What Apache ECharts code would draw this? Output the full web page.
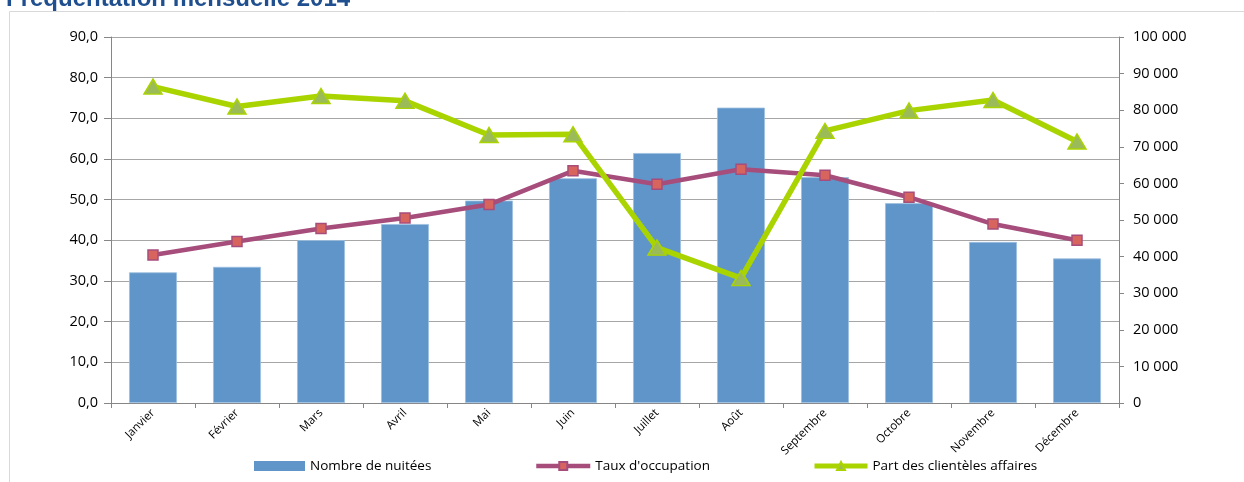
<!DOCTYPE html>
<html>
<head>
<meta charset="utf-8">
<script src="https://cdn.jsdelivr.net/npm/echarts@6/dist/echarts.min.js"></script>
<style>html,body{margin:0;padding:0;background:#fff}#c{width:1244px;height:482px}</style>
</head>
<body>
<div id="c"></div>
<script>
const months = ['Janvier','Février','Mars','Avril','Mai','Juin','Juillet','Août','Septembre','Octobre','Novembre','Décembre'];
const nuitees = [35700, 37200, 44500, 48900, 55300, 61400, 68300, 80700, 61700, 54600, 44000, 39500];
const tauxOccupation = [36.4, 39.7, 42.9, 45.5, 48.8, 57.1, 53.8, 57.5, 56.0, 50.6, 44.0, 40.0];
const partAffaires = [77.8, 72.9, 75.5, 74.3, 65.9, 66.1, 38.2, 30.7, 66.9, 71.9, 74.5, 64.3];
const titleText = 'Fréquentation mensuelle 2014';

const FONT = '"Open Sans", sans-serif';
const chart = echarts.init(document.getElementById('c'), null, {renderer: 'canvas'});
const fmtLeft = v => v.toFixed(1).replace('.', ',');
const fmtRight = v => String(v).replace(/\B(?=(\d{3})+(?!\d))/g, ' ');
const legendText = {fontFamily: FONT, fontSize: 13.5, color: '#000'};
const PURPLE = '#A64D7C', GREEN = '#AAD400', BLUE = '#6095C9';

chart.setOption({
  animation: false,
  backgroundColor: '#fff',
  graphic: [
    {type: 'line', shape: {x1: 9.5, y1: 11.5, x2: 1244, y2: 11.5}, style: {stroke: '#d9d9d9', lineWidth: 1}},
    {type: 'line', shape: {x1: 9.5, y1: 11.5, x2: 9.5, y2: 482}, style: {stroke: '#d9d9d9', lineWidth: 1}},
    {type: 'text', left: 6, top: -13, style: {text: titleText, font: 'bold 24px "Liberation Sans", Arial, sans-serif', fill: '#1F4F8F'}}
  ],
  grid: {left: 111, right: 125, top: 37, bottom: 79, containLabel: false},
  legend: [
    {data: [{name: 'Nombre de nuitées', icon: 'rect', itemStyle: {color: BLUE, borderWidth: 0}}], left: 249, top: 454, itemWidth: 51, itemHeight: 10, textStyle: legendText},
    {data: [{name: 'Taux d\'occupation', lineStyle: {width: 4.5, color: PURPLE}}], left: 529, top: 454, itemWidth: 54, itemHeight: 10, textStyle: legendText},
    {data: [{name: 'Part des clientèles affaires', lineStyle: {width: 5, color: GREEN}}], left: 807, top: 454, itemWidth: 53, itemHeight: 10, textStyle: legendText}
  ],
  xAxis: {
    type: 'category', data: months,
    axisLine: {lineStyle: {color: '#868686', width: 1}},
    axisTick: {show: true, length: 5, lineStyle: {color: '#868686'}},
    axisLabel: {rotate: 45, margin: 8, fontFamily: FONT, fontSize: 11.5, color: '#000', interval: 0},
    splitLine: {show: false}
  },
  yAxis: [
    {
      type: 'value', min: 0, max: 90, interval: 10, position: 'left',
      axisLine: {show: true, lineStyle: {color: '#868686'}},
      axisTick: {show: true, length: 7, lineStyle: {color: '#868686'}},
      axisLabel: {formatter: fmtLeft, fontFamily: FONT, fontSize: 14.5, color: '#000', margin: 13},
      splitLine: {show: true, lineStyle: {color: '#a6a6a6', width: 1}}
    },
    {
      type: 'value', min: 0, max: 100000, interval: 10000, position: 'right',
      axisLine: {show: true, lineStyle: {color: '#868686'}},
      axisTick: {show: true, length: 5, lineStyle: {color: '#868686'}},
      axisLabel: {formatter: fmtRight, fontFamily: FONT, fontSize: 14.5, color: '#000', margin: 14},
      splitLine: {show: false}
    }
  ],
  series: [
    {
      name: 'Nombre de nuitées', type: 'bar', yAxisIndex: 1, data: nuitees,
      barCategoryGap: '43%',
      itemStyle: {color: BLUE, borderColor: '#9dbfe0', borderWidth: 0.8},
      z: 1
    },
    {
      name: 'Taux d\'occupation', type: 'line', yAxisIndex: 0, data: tauxOccupation,
      symbol: 'rect', symbolSize: 10, showAllSymbol: true,
      lineStyle: {color: PURPLE, width: 4.5},
      itemStyle: {color: '#D8645E', borderColor: PURPLE, borderWidth: 1.5},
      z: 3
    },
    {
      name: 'Part des clientèles affaires', type: 'line', yAxisIndex: 0, data: partAffaires,
      symbol: 'triangle', symbolSize: [18, 15], showAllSymbol: true,
      lineStyle: {color: GREEN, width: 5.5},
      itemStyle: {color: '#9BBB59', borderColor: GREEN, borderWidth: 1.5},
      z: 4
    }
  ]
});
</script>
</body>
</html>
